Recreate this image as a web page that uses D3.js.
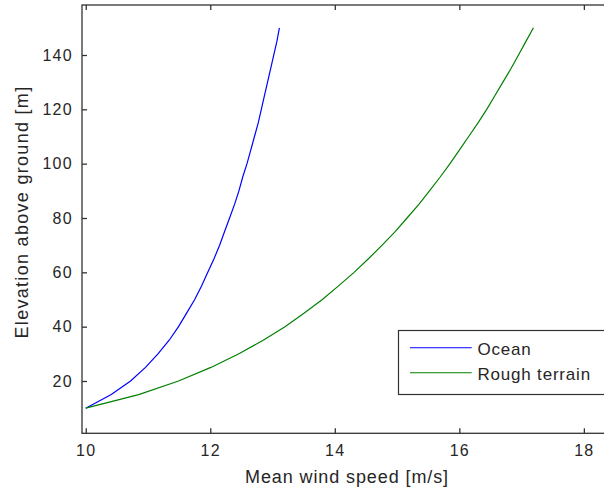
<!DOCTYPE html>
<html>
<head>
<meta charset="utf-8">
<script src="https://cdn.jsdelivr.net/npm/d3@7"></script>
<style>
  html, body { margin: 0; padding: 0; background: #fff; }
  svg { display: block; }
  text { font-family: "Liberation Sans", Arial, sans-serif; fill: #262626; }
</style>
</head>
<body>
<div id="chart"></div>
<script>
// Mean wind speed profiles versus elevation for two kinds of surface
const heights = [10, 15, 20, 25, 30, 35, 40, 45, 50, 55, 60, 65, 70, 75, 80,
                 85, 90, 95, 100, 105, 110, 115, 120, 125, 130, 135, 140, 145, 150];
const oceanSpeed = [10.00, 10.41, 10.72, 10.96, 11.16, 11.34, 11.49, 11.62, 11.75, 11.86, 11.96, 12.06, 12.15, 12.23, 12.31,
                    12.39, 12.46, 12.52, 12.59, 12.65, 12.71, 12.77, 12.82, 12.87, 12.92, 12.97, 13.02, 13.07, 13.11];
const roughSpeed = [10.00, 10.85, 11.49, 12.01, 12.46, 12.85, 13.20, 13.51, 13.80, 14.06, 14.31, 14.54, 14.76, 14.97, 15.16,
                    15.35, 15.52, 15.69, 15.85, 16.00, 16.15, 16.30, 16.44, 16.57, 16.70, 16.83, 16.95, 17.07, 17.19];
const seriesNames = ["Ocean", "Rough terrain"];
const seriesColors = ["#0000ff", "#008000"];
const xTicks = [10, 12, 14, 16, 18];
const yTicks = [20, 40, 60, 80, 100, 120, 140];

const W = 604, H = 492;
const plotLeft = 82, plotTop = 5, plotBottom = 433.3, plotRight = 615;

const x = d3.scaleLinear().domain([9.94, 18.5]).range([plotLeft, plotRight]);
const y = d3.scaleLinear().domain([0.75, 158.4]).range([plotBottom, plotTop]);

const svg = d3.select("#chart").append("svg")
  .attr("width", W).attr("height", H);

const axisColor = "#333";
const tickLen = 5;
const fontStack = "'Liberation Sans', Arial, sans-serif";

// axis frame
svg.append("rect")
  .attr("x", plotLeft).attr("y", plotTop)
  .attr("width", plotRight - plotLeft).attr("height", plotBottom - plotTop)
  .attr("fill", "none").attr("stroke", axisColor).attr("stroke-width", 1.3);

// bottom axis (ticks point inward)
const xAxis = d3.axisBottom(x).tickValues(xTicks).tickSize(-tickLen).tickPadding(11)
  .tickFormat(d3.format("d"));
const gx = svg.append("g").attr("transform", `translate(0,${plotBottom})`).call(xAxis);
gx.select(".domain").remove();
gx.selectAll(".tick line").attr("stroke", axisColor).attr("stroke-width", 1.3);
gx.selectAll(".tick text").attr("font-size", 16).attr("fill", "#262626")
  .style("font-family", fontStack).attr("letter-spacing", "1.3px");

// top mirror ticks
const xTop = d3.axisTop(x).tickValues(xTicks).tickSize(-tickLen).tickFormat("");
const gxt = svg.append("g").attr("transform", `translate(0,${plotTop})`).call(xTop);
gxt.select(".domain").remove();
gxt.selectAll(".tick line").attr("stroke", axisColor).attr("stroke-width", 1.3);

// left axis
const yAxis = d3.axisLeft(y).tickValues(yTicks).tickSize(-tickLen).tickPadding(9)
  .tickFormat(d3.format("d"));
const gy = svg.append("g").attr("transform", `translate(${plotLeft},0)`).call(yAxis);
gy.select(".domain").remove();
gy.selectAll(".tick line").attr("stroke", axisColor).attr("stroke-width", 1.3);
gy.selectAll(".tick text").attr("font-size", 16).attr("fill", "#262626")
  .style("font-family", fontStack).attr("letter-spacing", "1.3px");

// curves
const line = d3.line().x(d => x(d[0])).y(d => y(d[1]));
const series = [oceanSpeed, roughSpeed];
series.forEach((vals, i) => {
  svg.append("path")
    .datum(vals.map((v, j) => [v, heights[j]]))
    .attr("d", line)
    .attr("fill", "none")
    .attr("stroke", seriesColors[i])
    .attr("stroke-width", 1.2);
});

// axis titles
svg.append("text")
  .attr("x", 347).attr("y", 483)
  .attr("text-anchor", "middle")
  .attr("font-size", 18).attr("letter-spacing", "0.9px")
  .text("Mean wind speed [m/s]");

svg.append("text")
  .attr("transform", "translate(28,212) rotate(-90)")
  .attr("text-anchor", "middle")
  .attr("font-size", 18).attr("letter-spacing", "1.3px")
  .text("Elevation above ground [m]");

// legend
const lg = svg.append("g");
lg.append("rect")
  .attr("x", 398.5).attr("y", 330.5).attr("width", 220).attr("height", 64)
  .attr("fill", "#fff").attr("stroke", axisColor).attr("stroke-width", 1.2);
seriesNames.forEach((name, i) => {
  const yy = 347.7 + i * 25;
  lg.append("line")
    .attr("x1", 410).attr("x2", 471.7).attr("y1", yy).attr("y2", yy)
    .attr("stroke", seriesColors[i]).attr("stroke-width", 1.1);
  lg.append("text")
    .attr("x", 477.5).attr("y", yy + 7)
    .attr("font-size", 17).attr("letter-spacing", "0.8px")
    .text(name);
});
</script>
</body>
</html>
